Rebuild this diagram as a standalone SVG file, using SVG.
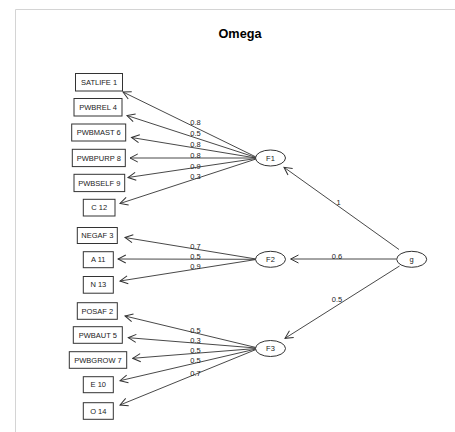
<svg xmlns="http://www.w3.org/2000/svg" width="455" height="432" viewBox="0 0 455 432">
  <style>
    .frame { stroke: #d4d4d4; stroke-width: 1; fill: none; }
    .title { font-family: "Liberation Sans", Arial, sans-serif; font-size: 12.7px; font-weight: bold; fill: #000; text-anchor: middle; }
    .box rect { fill: #fff; stroke: #333; stroke-width: 1; }
    .lat ellipse { fill: #fff; stroke: #333; stroke-width: 1; }
    .lbl { font-family: "Liberation Sans", Arial, sans-serif; font-size: 7.5px; fill: #222; text-anchor: middle; dominant-baseline: central; }
    .edge { stroke: #333; stroke-width: 0.9; fill: none; marker-end: url(#open); }
    .w { font-family: "Liberation Sans", Arial, sans-serif; font-size: 7.5px; fill: #222; text-anchor: middle; dominant-baseline: central; }
  </style>
  <defs>
    <marker id="open" markerUnits="userSpaceOnUse" markerWidth="10" markerHeight="10" viewBox="-8 -4 9 8" refX="0" refY="0" orient="auto">
      <path d="M-7,-3.6 L0,0 L-7,3.6" fill="none" stroke="#333" stroke-width="0.9"/>
    </marker>
  </defs>

  <rect width="455" height="432" fill="#fff"/>
  <path class="frame" d="M15.5,432 V9.5 H455"/>

  <text class="title" x="240" y="37.5">Omega</text>

  <!-- connectors -->
  <g id="connectors">
    <line class="edge" x1="256" y1="157" x2="123" y2="92"/>
    <line class="edge" x1="256" y1="157.5" x2="127" y2="115.5"/>
    <line class="edge" x1="256" y1="158" x2="131.5" y2="137.5"/>
    <line class="edge" x1="256" y1="158" x2="130" y2="158"/>
    <line class="edge" x1="256" y1="158.5" x2="128" y2="177.5"/>
    <line class="edge" x1="256" y1="159" x2="120" y2="203.5"/>

    <line class="edge" x1="256" y1="259" x2="125" y2="237.5"/>
    <line class="edge" x1="256" y1="259.3" x2="118" y2="259"/>
    <line class="edge" x1="256" y1="259.5" x2="120" y2="281"/>

    <line class="edge" x1="256" y1="347.5" x2="125" y2="316"/>
    <line class="edge" x1="256" y1="348" x2="128.3" y2="337.7"/>
    <line class="edge" x1="256" y1="348.5" x2="132.7" y2="358.3"/>
    <line class="edge" x1="256" y1="349" x2="120" y2="380.7"/>
    <line class="edge" x1="256" y1="349.5" x2="120" y2="405"/>

    <line class="edge" x1="399" y1="249.5" x2="284" y2="167.3"/>
    <line class="edge" x1="396.5" y1="259" x2="290.7" y2="259"/>
    <line class="edge" x1="399.5" y1="266" x2="285" y2="338.3"/>

    <text class="w" x="195.5" y="122.5">0.8</text>
    <text class="w" x="195.5" y="133.5">0.5</text>
    <text class="w" x="195.5" y="144.3">0.8</text>
    <text class="w" x="195.5" y="155.5">0.8</text>
    <text class="w" x="195.5" y="166">0.9</text>
    <text class="w" x="195.5" y="176.3">0.3</text>

    <text class="w" x="195.5" y="246.5">0.7</text>
    <text class="w" x="195.5" y="256.5">0.5</text>
    <text class="w" x="195.5" y="266">0.9</text>

    <text class="w" x="195.5" y="330">0.5</text>
    <text class="w" x="195.5" y="340.5">0.3</text>
    <text class="w" x="195.5" y="350">0.5</text>
    <text class="w" x="195.5" y="360.5">0.5</text>
    <text class="w" x="195.5" y="373">0.7</text>

    <text class="w" x="338.5" y="202.5">1</text>
    <text class="w" x="337" y="256.5">0.6</text>
    <text class="w" x="337" y="299.3">0.5</text>
  </g>

  <!-- observed variables -->
  <g id="satlife1" class="box"><rect x="75.5" y="73.5" width="47" height="17.5"/><text class="lbl" x="99" y="82.3">SATLIFE 1</text></g>
  <g id="pwbrel4" class="box"><rect x="74" y="98.5" width="48" height="17.5"/><text class="lbl" x="98" y="107.3">PWBREL 4</text></g>
  <g id="pwbmast6" class="box"><rect x="71.7" y="124" width="54" height="17"/><text class="lbl" x="98.7" y="132.5">PWBMAST 6</text></g>
  <g id="pwbpurp8" class="box"><rect x="72.3" y="149.3" width="53" height="17.3"/><text class="lbl" x="98.8" y="158">PWBPURP 8</text></g>
  <g id="pwbself9" class="box"><rect x="74" y="174.3" width="50.7" height="17.3"/><text class="lbl" x="99.3" y="183">PWBSELF 9</text></g>
  <g id="c12" class="box"><rect x="83.3" y="199.3" width="31.7" height="16.7"/><text class="lbl" x="99.2" y="207.7">C 12</text></g>

  <g id="negaf3" class="box"><rect x="77.3" y="227.5" width="40" height="16"/><text class="lbl" x="97.3" y="235.5">NEGAF 3</text></g>
  <g id="a11" class="box"><rect x="83.3" y="251.7" width="30" height="16"/><text class="lbl" x="98.3" y="259.7">A 11</text></g>
  <g id="n13" class="box"><rect x="83.3" y="276.5" width="30" height="16.7"/><text class="lbl" x="98.3" y="284.8">N 13</text></g>

  <g id="posaf2" class="box"><rect x="77.3" y="302.7" width="40" height="16.6"/><text class="lbl" x="97.3" y="311">POSAF 2</text></g>
  <g id="pwbaut5" class="box"><rect x="73.3" y="326.7" width="49" height="16.6"/><text class="lbl" x="97.8" y="335">PWBAUT 5</text></g>
  <g id="pwbgrow7" class="box"><rect x="69.3" y="351.7" width="57.4" height="16.6"/><text class="lbl" x="98" y="360">PWBGROW 7</text></g>
  <g id="e10" class="box"><rect x="83.3" y="376.7" width="30" height="16"/><text class="lbl" x="98.3" y="384.7">E 10</text></g>
  <g id="o14" class="box"><rect x="83.3" y="402.7" width="30" height="16.6"/><text class="lbl" x="98.3" y="411">O 14</text></g>

  <!-- latent factors -->
  <g id="F1" class="lat"><ellipse cx="270.5" cy="158" rx="15" ry="8"/><text class="lbl" x="270.5" y="158">F1</text></g>
  <g id="F2" class="lat"><ellipse cx="270.5" cy="259.3" rx="15" ry="8"/><text class="lbl" x="270.5" y="259.3">F2</text></g>
  <g id="F3" class="lat"><ellipse cx="270.5" cy="348.5" rx="15" ry="8"/><text class="lbl" x="270.5" y="348.5">F3</text></g>
  <g id="g" class="lat"><ellipse cx="411.7" cy="259.3" rx="15" ry="8"/><text class="lbl" x="411.7" y="259.3">g</text></g>
</svg>
